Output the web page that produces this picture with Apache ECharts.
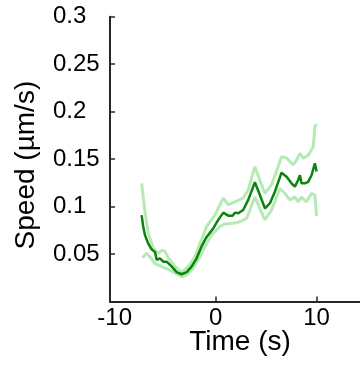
<!DOCTYPE html>
<html>
<head>
<meta charset="utf-8">
<script src="https://cdn.jsdelivr.net/npm/echarts@6/dist/echarts.min.js"></script>
<style>html,body{margin:0;padding:0;background:#fff}#c{width:360px;height:365px}</style>
</head>
<body>
<div id="c"></div>
<script>
// Mean speed
const meanT = [-7.33,-7.17,-7.0,-6.67,-6.34,-6.0,-5.84,-5.51,-5.19,-4.86,-4.36,-3.86,-3.37,-2.87,-2.38,-1.88,-1.39,-0.89,-0.24,0.26,0.76,1.25,1.68,1.91,2.24,2.73,3.23,3.89,4.32,4.89,5.38,5.87,6.53,7.03,7.52,7.85,8.18,8.35,8.51,8.84,9.17,9.5,9.83,9.9,10.0];
const meanV = [0.091,0.079,0.070,0.061,0.055,0.052,0.044,0.0455,0.042,0.042,0.037,0.031,0.0287,0.031,0.0367,0.0455,0.058,0.068,0.077,0.086,0.0936,0.0904,0.0904,0.0936,0.093,0.0964,0.107,0.1256,0.114,0.098,0.1035,0.1157,0.1357,0.1315,0.1245,0.121,0.128,0.133,0.1245,0.1245,0.126,0.133,0.1456,0.147,0.137];
// Upper bound
const upT = [-7.33,-7.0,-6.67,-6.17,-5.67,-5.34,-5.0,-4.67,-4.0,-3.37,-2.71,-2.05,-1.55,-0.89,-0.07,0.76,1.25,1.91,2.73,3.23,3.89,4.38,4.88,5.54,6.53,7.03,7.68,8.02,8.35,8.68,9.17,9.67,9.83,10.0];
const upV = [0.1245,0.0946,0.072,0.056,0.0508,0.054,0.0525,0.0455,0.0367,0.031,0.0367,0.047,0.061,0.079,0.091,0.109,0.1017,0.105,0.109,0.1175,0.142,0.128,0.114,0.1228,0.1526,0.151,0.144,0.149,0.156,0.151,0.154,0.163,0.184,0.187];
// Lower bound
const loT = [-7.25,-6.83,-6.5,-6.0,-5.34,-4.52,-3.86,-3.37,-2.87,-2.21,-1.55,-1.06,-0.4,0.43,0.92,1.74,2.41,3.07,3.89,4.38,4.88,5.54,6.36,6.86,7.35,7.85,8.18,8.51,9.0,9.5,9.83,10.0];
const loV = [0.046,0.0508,0.047,0.040,0.0367,0.033,0.029,0.026,0.028,0.035,0.047,0.058,0.070,0.079,0.0817,0.0824,0.084,0.0877,0.110,0.098,0.086,0.0964,0.119,0.114,0.107,0.110,0.105,0.110,0.105,0.114,0.112,0.090];
const xTicks = [-10, 0, 10];
const xLabel = 'Time (s)';
const yLabel = 'Speed (µm/s)';

const zip = (a, b) => a.map((t, i) => [t, b[i]]);
const font = 'Liberation Sans, Arial, sans-serif';
const axisCol = '#262626';
const light = '#b4ebb4';
const dark = '#0b840b';

const chart = echarts.init(document.getElementById('c'), null, {renderer: 'canvas'});
chart.setOption({
  animation: false,
  grid: {left: 110, right: 0, top: 16.7, bottom: 63.5, containLabel: false, outerBoundsMode: 'none'},
  xAxis: {
    type: 'value', min: -10.46, max: 14.3,
    name: xLabel, nameLocation: 'middle', nameGap: 27, nameMoveOverlap: false,
    nameTextStyle: {fontFamily: font, fontSize: 28, color: '#000', padding: [0, 0, 0, 10]},
    axisLine: {show: true, onZero: false, lineStyle: {color: axisCol, width: 2}},
    axisTick: {show: true, inside: true, length: 5, customValues: [0, 10], lineStyle: {color: axisCol, width: 1.5}},
    axisLabel: {customValues: xTicks, fontFamily: font, fontSize: 24, color: '#000', margin: 5, showMinLabel: true, showMaxLabel: true},
    splitLine: {show: false}
  },
  yAxis: {
    type: 'value', min: 0, max: 0.3, interval: 0.05,
    name: yLabel, nameLocation: 'middle', nameGap: 70,
    nameTextStyle: {fontFamily: font, fontSize: 28, color: '#000', padding: [0, 12, 0, 0]},
    axisLine: {show: true, onZero: false, lineStyle: {color: axisCol, width: 2}},
    axisTick: {show: true, inside: true, length: 5, lineStyle: {color: axisCol, width: 1.5}},
    axisLabel: {fontFamily: font, fontSize: 24, color: '#000', align: 'left', margin: 57,
      formatter: v => v === 0 ? '' : String(+v.toFixed(2))},
    splitLine: {show: false}
  },
  series: [
    {type: 'line', data: zip(upT, upV), showSymbol: false, lineStyle: {color: light, width: 3}, z: 1},
    {type: 'line', data: zip(loT, loV), showSymbol: false, lineStyle: {color: light, width: 3}, z: 1},
    {type: 'line', data: zip(meanT, meanV), showSymbol: false, lineStyle: {color: dark, width: 2.5}, z: 2}
  ]
});
</script>
</body>
</html>
